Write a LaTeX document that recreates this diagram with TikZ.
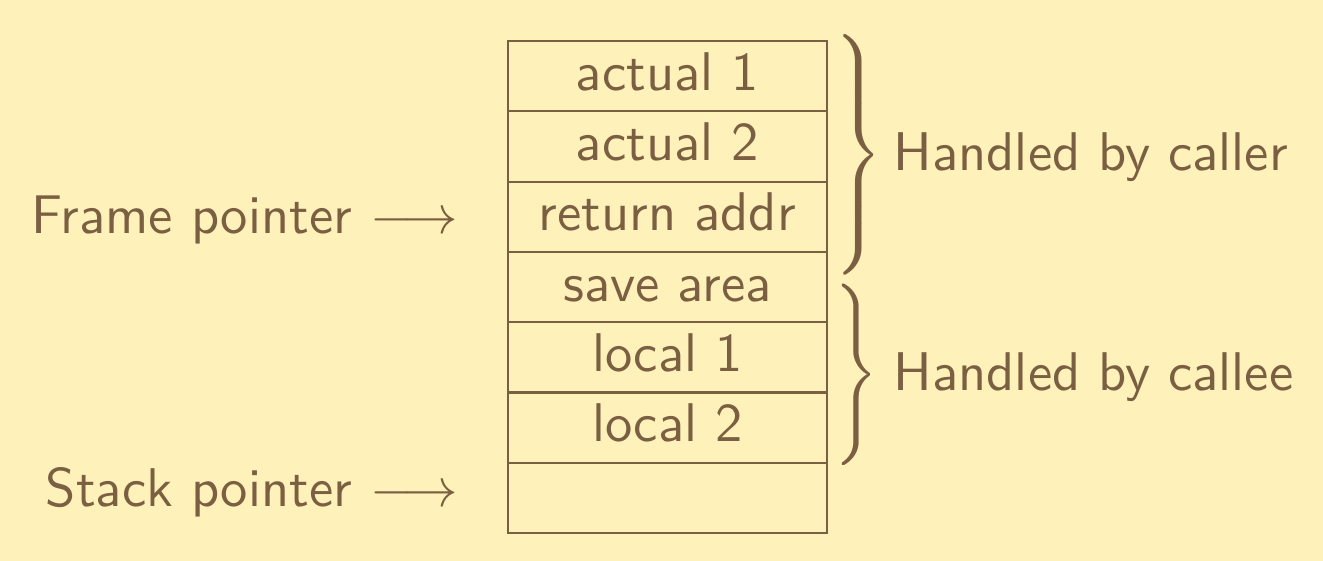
\documentclass[tikz,border=0pt]{standalone}
\usepackage{graphicx}
\usetikzlibrary{positioning}

\definecolor{slidebg}{RGB}{254,241,185}
\definecolor{slideink}{RGB}{123,95,66}

\tikzset{
  cell/.style={draw=slideink, line width=0.4pt, minimum width=58.5pt,
    text height=9.05pt, text depth=3.85pt, inner sep=0pt, outer sep=0pt},
  ptr/.style={anchor=base east, inner sep=0pt},
  side/.style={anchor=base west, inner sep=0pt},
  brc/.style={anchor=west, inner sep=0pt},
}
% a right brace of height #1, stretched by #2
\newcommand{\bracefor}[2]{\scalebox{1}[#2]{$\nulldelimiterspace=0pt\delimiterfactor=1000\delimitershortfall=0pt
  \left.\vcenter{\hbox{\rule{0pt}{#1}}}\right\}$}}

\begin{document}
\begin{tikzpicture}[x=1pt,y=1pt,every node/.append style={text=slideink, font=\sffamily}]
\fill[slidebg] (0,0) rectangle (242.75,102.9);
\useasboundingbox (0,0) rectangle (242.75,102.9);
% the stack frame
\node[cell, anchor=north west] (act1) at (93.2,95.38) {actual 1};
\node[cell, below=0pt of act1] (act2) {actual 2};
\node[cell, below=0pt of act2] (ret) {return addr};
\node[cell, below=0pt of ret] (save) {save area};
\node[cell, below=0pt of save] (loc1) {local 1};
\node[cell, below=0pt of loc1] (loc2) {local 2};
\node[cell, below=0pt of loc2] (free) {};
% pointers
\node[ptr] (fp) at (84.2,60.1) {Frame pointer $\longrightarrow$};
\node[ptr] (sp) at (84.2,9.93) {Stack pointer $\longrightarrow$};
% who does what
\node[brc] (callerbrace) at (152.9,74.46) {\bracefor{40.5pt}{1.053}};
\node[side] (caller) at (163.8,71.7) {Handled by caller};
\node[brc] (calleebrace) at (152.9,34.2) {\bracefor{29.5pt}{1.11}};
\node[side] (callee) at (163.8,31.34) {Handled by callee};
\end{tikzpicture}
\end{document}
